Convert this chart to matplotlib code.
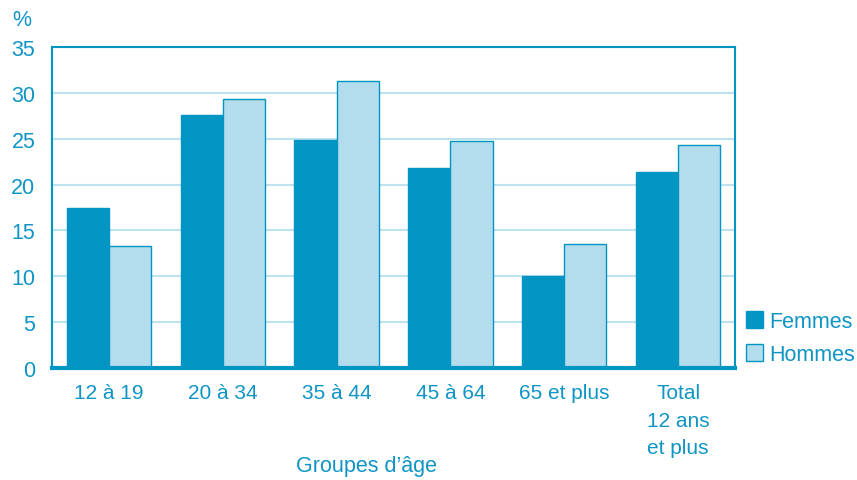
import matplotlib
matplotlib.use("Agg")
import matplotlib.pyplot as plt
import numpy as np
from matplotlib.patches import Patch

categories = ["12 à 19", "20 à 34", "35 à 44", "45 à 64", "65 et plus", "Total\n12 ans\net plus"]
femmes = [17.4, 27.6, 24.9, 21.8, 10.0, 21.4]
hommes = [13.3, 29.3, 31.3, 24.8, 13.5, 24.3]
yticks = [0, 5, 10, 15, 20, 25, 30, 35]

dark = "#0095C3"
light = "#B3DCEC"
txt = "#0E95C6"
grid = "#BFE2F0"

plt.rcParams['font.family'] = ['Liberation Sans', 'DejaVu Sans']

fig = plt.figure(figsize=(8.57, 4.81), dpi=100)
ax = fig.add_axes([52/857, 1-369/481, (735-52)/857, (369-48)/481])

x = np.arange(len(categories))
w = 0.37
ax.bar(x - w/2, femmes, w, color=dark, edgecolor=dark, linewidth=1.0, zorder=3)
ax.bar(x + w/2, hommes, w, color=light, edgecolor=dark, linewidth=1.0, zorder=3)

ax.set_xlim(-0.5, len(categories) - 0.5)
ax.set_ylim(0, 35)
ax.set_yticks(yticks)
ax.set_yticklabels([str(v) for v in yticks], color=txt, fontsize=15.5)
ax.set_xticks(x)
ax.set_xticklabels(categories, color=txt, fontsize=15, linespacing=1.55, va='top')
ax.tick_params(axis='y', length=0, pad=12)
ax.tick_params(axis='x', length=0, pad=11)
ax.yaxis.grid(True, color=grid, linewidth=1.5, zorder=0)
for s in ['left', 'top', 'right']:
    ax.spines[s].set_color(dark)
    ax.spines[s].set_linewidth(1.5)
ax.spines['bottom'].set_color(dark)
ax.spines['bottom'].set_linewidth(3)
ax.spines['bottom'].set_zorder(5)

fig.text(12/857, 1-20/481, "%", color=txt, fontsize=15.5, ha='left', va='center')
fig.text(367/857, 1-467/481, "Groupes d\u2019âge", color=txt, fontsize=15.5, ha='center', va='center')

handles = [Patch(facecolor=dark, edgecolor=dark), Patch(facecolor=light, edgecolor=dark)]
fig.legend(handles, ["Femmes", "Hommes"], loc='center left', bbox_to_anchor=(746/857, 1-339/481),
           frameon=False, fontsize=15.5, labelcolor=txt, handlelength=0.8, handleheight=0.8,
           handletextpad=0.3, labelspacing=0.55, borderaxespad=0, borderpad=0)

fig.savefig("out.png", dpi=100)
